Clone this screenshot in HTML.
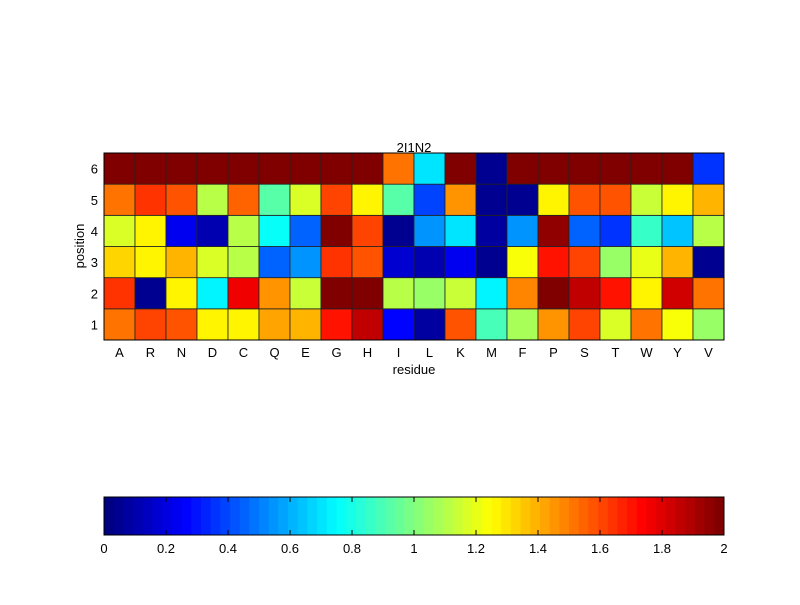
<!DOCTYPE html>
<html><head><meta charset="utf-8"><style>
body{margin:0;background:#fff}
svg text{font-family:"Liberation Sans",sans-serif;font-size:13px;fill:#000}
</style></head><body>
<svg width="800" height="600">
<rect width="800" height="600" fill="#fff"/>
<g id="hm"></g>
<g id="cb"></g>
<text x="414" y="152" text-anchor="middle">2I1N2</text>
<text x="414" y="374" text-anchor="middle">residue</text>
<text transform="translate(84,246) rotate(-90)" text-anchor="middle">position</text>
</svg>
<script>
const residues=["A","R","N","D","C","Q","E","G","H","I","L","K","M","F","P","S","T","W","Y","V"];
const positions=[1,2,3,4,5,6];
const row1=[1.5,1.6,1.57,1.28,1.28,1.42,1.38,1.7,1.85,0.28,0.08,1.58,0.9,1.08,1.45,1.62,1.18,1.5,1.22,1.05];
const row2=[1.65,0.05,1.28,0.72,1.75,1.45,1.15,2,2,1.1,1.05,1.15,0.72,1.48,2,1.85,1.7,1.25,1.82,1.52];
const row3=[1.33,1.28,1.4,1.18,1.1,0.45,0.55,1.65,1.58,0.18,0.12,0.22,0.05,1.22,1.7,1.62,1.05,1.2,1.4,0.05];
const row4=[1.17,1.28,0.22,0.1,1.1,0.75,0.45,2,1.6,0.05,0.55,0.7,0.08,0.55,1.95,0.45,0.35,0.85,0.65,1.1];
const row5=[1.5,1.65,1.58,1.1,1.55,0.92,1.17,1.6,1.25,0.92,0.4,1.45,0.05,0.05,1.27,1.58,1.57,1.15,1.25,1.38];
const row6=[2,2,2,2,2,2,2,2,2,1.5,0.7,2,0.05,2,2,2,2,2,2,0.35];
const rows=[row1,row2,row3,row4,row5,row6];
const cbTicks=[0,0.2,0.4,0.6,0.8,1,1.2,1.4,1.6,1.8,2];
const NS="http://www.w3.org/2000/svg";
const X0=104,X1=724,Y0=153,Y1=340,VMIN=0,VMAX=2;
const cw=(X1-X0)/residues.length,ch=(Y1-Y0)/positions.length;
function jet(v){let t=Math.max(0,Math.min(1,(v-VMIN)/(VMAX-VMIN)));
 t=Math.min(63,Math.floor(t*64))/63;
 const c=x=>Math.round(255*Math.max(0,Math.min(1,x)));
 return `rgb(${c(1.5-Math.abs(4*t-3))},${c(1.5-Math.abs(4*t-2))},${c(1.5-Math.abs(4*t-1))})`;}
function mk(tag,a,p){const e=document.createElementNS(NS,tag);for(const k in a)e.setAttribute(k,a[k]);p.appendChild(e);return e;}
const hm=document.getElementById('hm'),cb=document.getElementById('cb');
const xc=i=>X0+i*cw, yc=r=>Y1-(r+1)*ch;
rows.forEach((row,r)=>row.forEach((v,i)=>{
 const e=mk('rect',{x:xc(i),y:yc(r),width:cw,height:ch,fill:jet(v),stroke:'#222','stroke-width':0.8},hm);
 
 
}));
mk('rect',{x:X0,y:Y0,width:X1-X0,height:Y1-Y0,fill:'none',stroke:'#000','stroke-width':1},hm);
residues.forEach((s,i)=>{const t=mk('text',{x:xc(i)+cw/2,y:357,'text-anchor':'middle'},hm);t.textContent=s;
 });
positions.forEach((p,r)=>{const t=mk('text',{x:98,y:yc(r)+ch/2+5,'text-anchor':'end'},hm);t.textContent=p;
 });
const CY0=497,CY1=535,sx=v=>X0+(v-VMIN)/(VMAX-VMIN)*(X1-X0);
for(let k=0;k<64;k++){const v=VMIN+(k+0.5)/64*(VMAX-VMIN);
 const e=mk('rect',{x:sx(VMIN+k/64*(VMAX-VMIN)),y:CY0,width:(X1-X0)/64+0.5,height:CY1-CY0,fill:jet(v)},cb);
 }
mk('rect',{x:X0,y:CY0,width:X1-X0,height:CY1-CY0,fill:'none',stroke:'#000','stroke-width':1},cb);
cbTicks.forEach(v=>{const x=sx(v);
 mk('line',{x1:x,x2:x,y1:CY0,y2:CY0+5,stroke:'#000'},cb);mk('line',{x1:x,x2:x,y1:CY1,y2:CY1-5,stroke:'#000'},cb);
 const t=mk('text',{x:x,y:553,'text-anchor':'middle'},cb);t.textContent=String(v);
 });
</script>
</body></html>
